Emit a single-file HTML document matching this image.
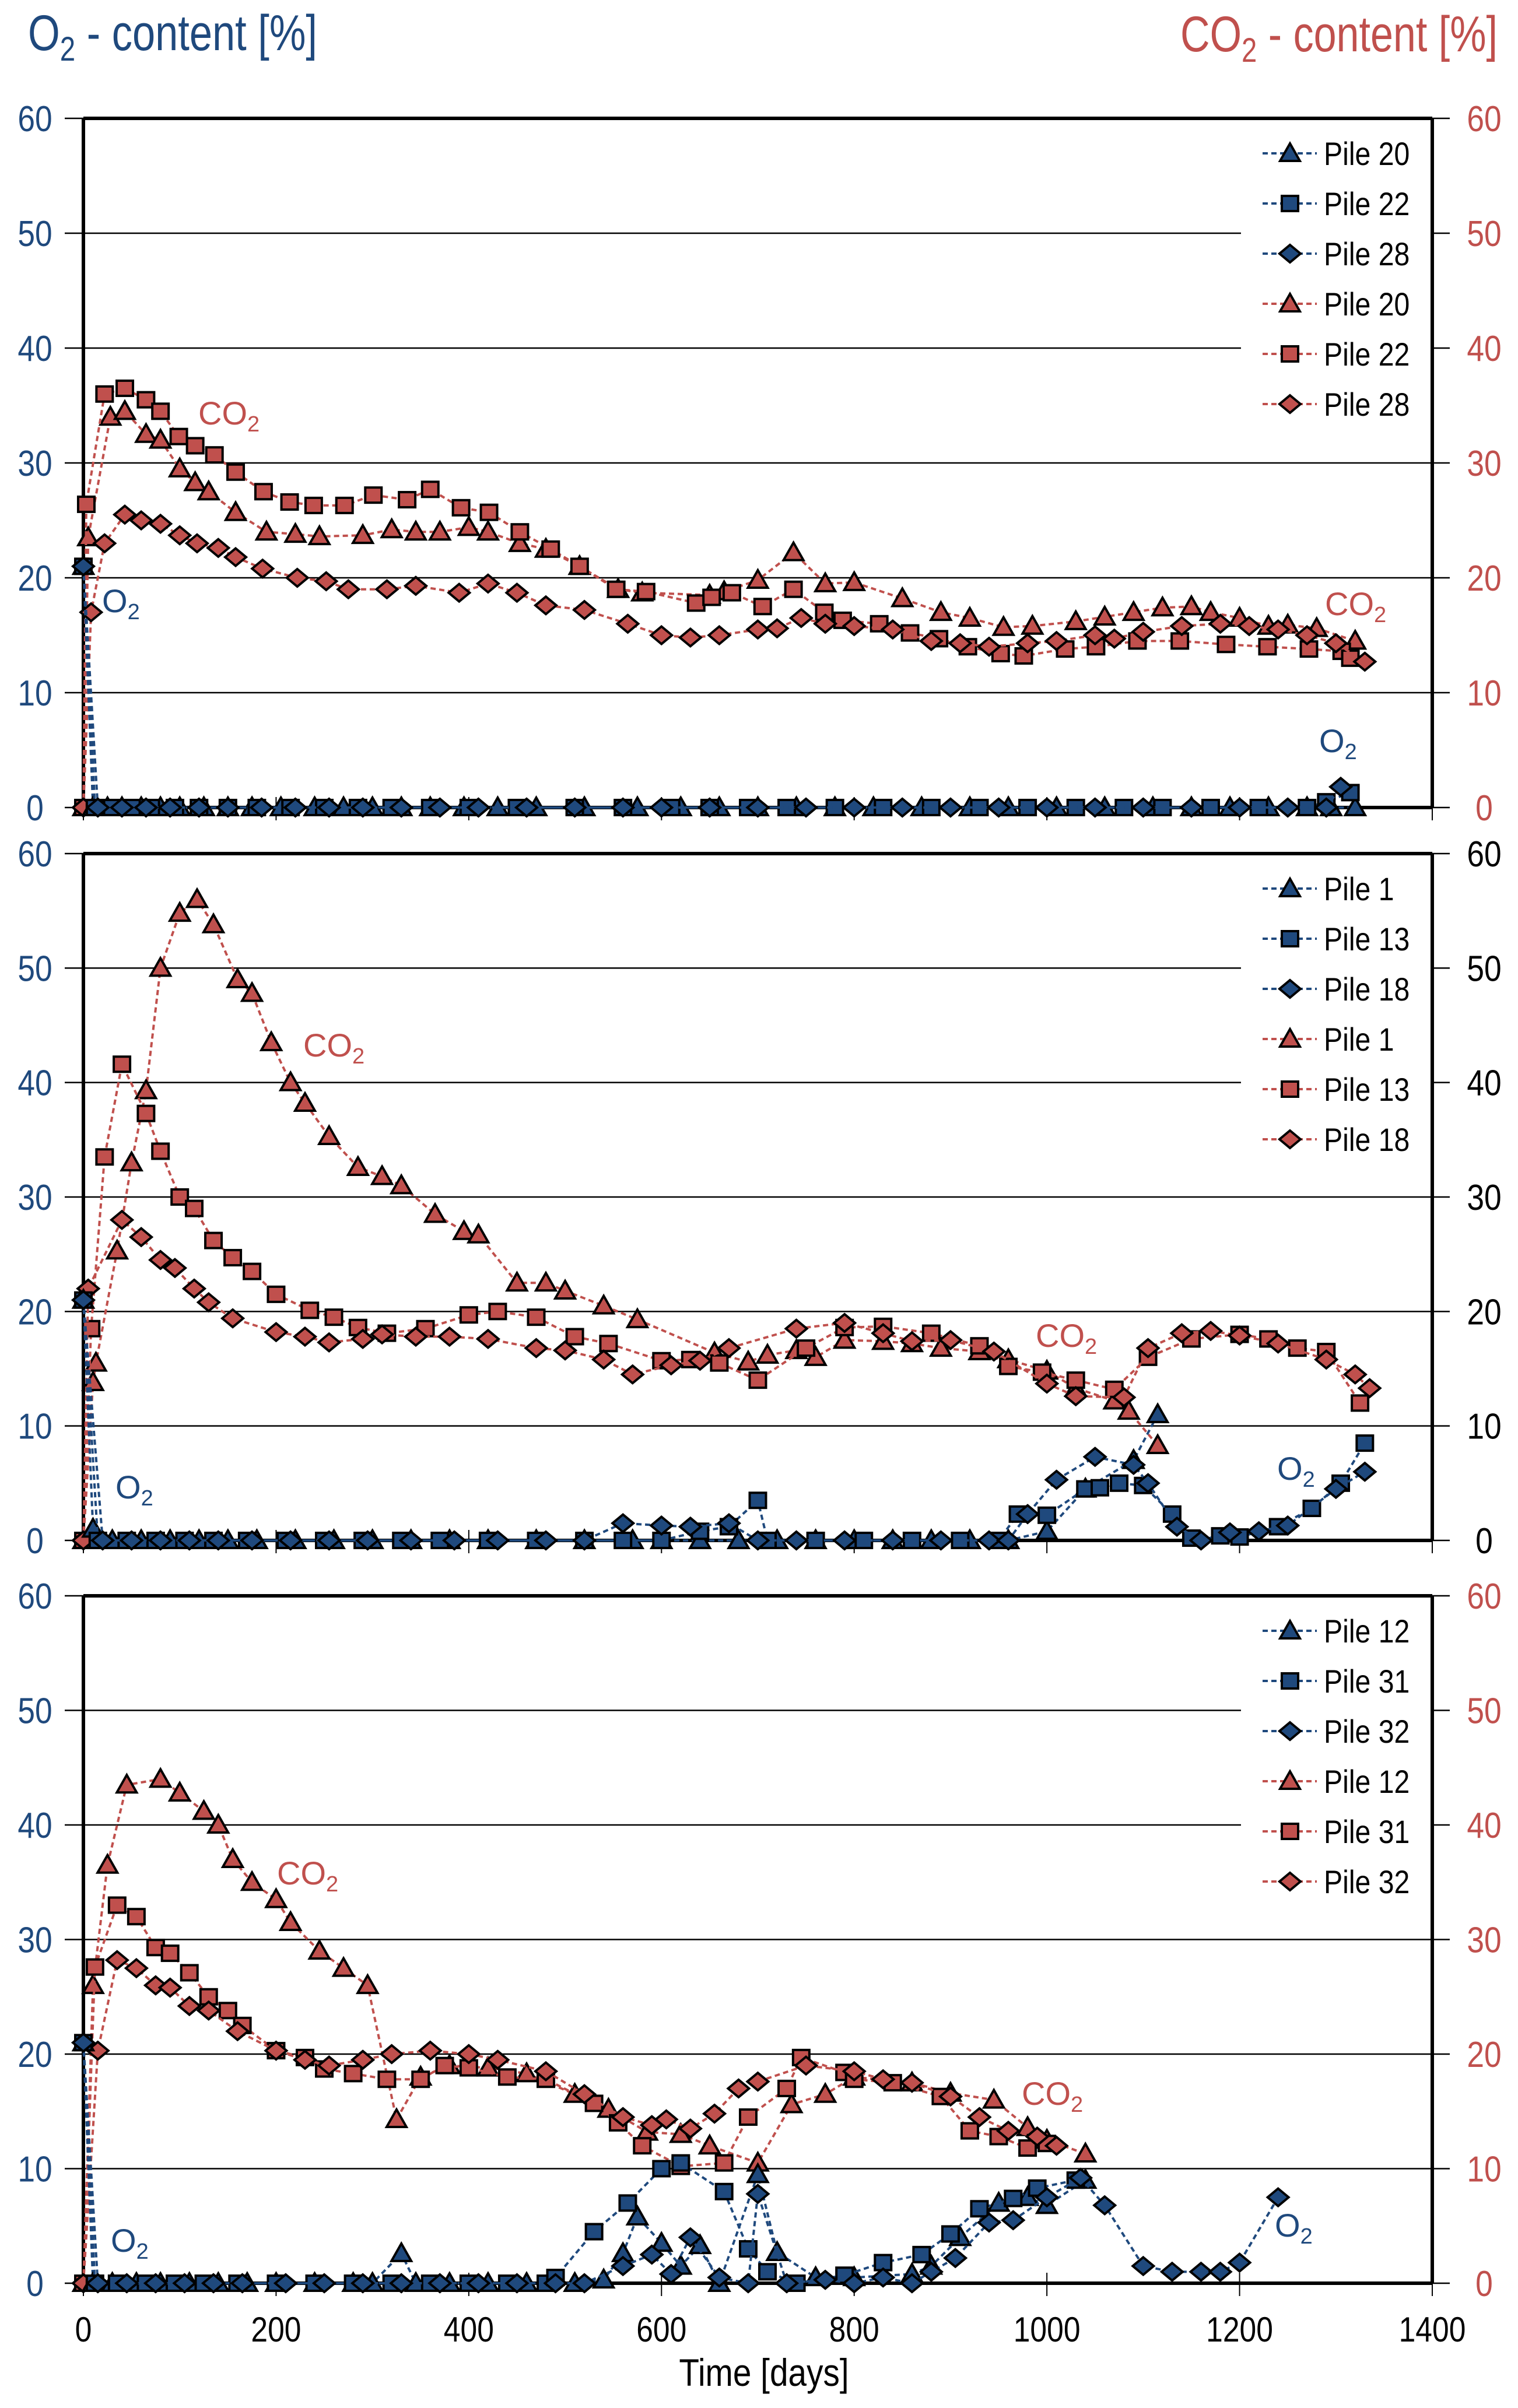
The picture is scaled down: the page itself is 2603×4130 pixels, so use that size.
<!DOCTYPE html>
<html><head><meta charset="utf-8">
<style>
html,body{margin:0;padding:0;background:#fff;}
svg{display:block;font-family:"Liberation Sans",Arial,sans-serif;}
</style></head>
<body>
<svg id="chart" width="2603" height="4130" viewBox="0 0 2603 4130" xmlns="http://www.w3.org/2000/svg">
<text id="ltitle" x="48" y="86" font-size="86" fill="#1f497d" textLength="496" lengthAdjust="spacingAndGlyphs">O<tspan font-size="58" dy="18">2</tspan><tspan dy="-18"> - content [%]</tspan></text>
<text id="rtitle" x="2024" y="88" font-size="86" fill="#c0504d" textLength="544" lengthAdjust="spacingAndGlyphs">CO<tspan font-size="58" dy="18">2</tspan><tspan dy="-18"> - content [%]</tspan></text>
<text class="cond" x="1310" y="4092" font-size="66" text-anchor="middle" fill="#000">Time [days]</text>
<g id="plots"></g>
</svg>
<script>
// ---- data ----
const xTicks = [0,200,400,600,800,1000,1200,1400];
const yTicks = [0,10,20,30,40,50,60];

// Top panel
const p1Names = ["Pile 20","Pile 22","Pile 28"];
const p1O2_20_days = [0,10,25,40,60,80,100,125,150,175,205,240,270,300,330,360,395,430,470,520,575,620,660,700,740,780,820,870,920,960,1010,1060,1110,1150,1190,1230,1270,1295,1320];
const p1O2_20_vals = [21,0,0,0,0,0,0,0,0,0,0,0,0,0,0,0,0,0,0,0,0,0,0,0,0,0,0,0,0,0,0,0,0,0,0,0,0,0,0];
const p1O2_22_days = [0,12,30,50,70,95,120,150,180,215,250,285,320,360,400,450,510,560,610,650,690,730,780,830,880,930,980,1030,1080,1120,1170,1220,1270,1290,1315];
const p1O2_22_vals = [21,0,0,0,0,0,0,0,0,0,0,0,0,0,0,0,0,0,0,0,0,0,0,0,0,0,0,0,0,0,0,0,0,0.5,1.3];
const p1O2_28_days = [0,15,40,65,90,120,150,185,220,255,290,330,370,410,460,510,560,600,650,700,750,800,850,900,950,1000,1050,1100,1150,1200,1250,1290,1305];
const p1O2_28_vals = [21,0,0,0,0,0,0,0,0,0,0,0,0,0,0,0,0,0,0,0,0,0,0,0,0,0,0,0,0,0,0,0,1.8];
const p1CO2_20_days = [0,5,28,43,65,80,100,116,130,158,190,220,245,290,320,345,370,400,420,453,480,515,555,580,650,665,700,737,770,800,850,890,920,955,985,1030,1060,1090,1120,1150,1170,1200,1230,1250,1280,1320];
const p1CO2_20_vals = [0,23.5,34,34.5,32.5,32,29.5,28.3,27.5,25.7,24,23.8,23.6,23.7,24.2,24,24,24.4,24,23,22.5,21,19,18.7,18.5,18.8,19.8,22.2,19.5,19.6,18.2,17,16.5,15.7,15.8,16.2,16.6,17,17.4,17.5,17,16.5,15.8,15.9,15.6,14.5];
const p1CO2_22_days = [0,3,22,43,65,80,99,116,136,158,187,214,239,271,301,336,360,392,421,453,485,515,553,584,636,652,673,705,737,769,788,826,858,888,918,952,976,1019,1051,1094,1138,1186,1229,1272,1306,1315];
const p1CO2_22_vals = [0,26.4,36,36.5,35.5,34.5,32.3,31.5,30.7,29.2,27.5,26.6,26.3,26.3,27.2,26.8,27.7,26.1,25.7,24,22.5,21,19,18.8,17.8,18.3,18.7,17.5,19,17,16.3,16,15.2,14.7,14,13.4,13.2,13.8,14,14.5,14.5,14.2,14,13.8,13.6,13];
const p1CO2_28_days = [0,8,22,43,60,80,100,118,140,158,186,222,252,275,315,345,390,420,450,480,520,565,600,630,660,700,720,745,770,800,840,880,910,940,980,1010,1050,1070,1100,1140,1180,1210,1240,1270,1300,1330];
const p1CO2_28_vals = [0,17,23,25.5,25,24.7,23.7,23,22.6,21.8,20.8,20,19.7,19,19,19.3,18.7,19.5,18.7,17.6,17.2,16,15,14.8,15,15.5,15.6,16.5,16,15.8,15.5,14.5,14.3,14,14.3,14.5,15,14.7,15.3,15.8,16,15.8,15.5,15,14.3,12.7];

// Middle panel
const p2Names = ["Pile 1","Pile 13","Pile 18"];
const p2O2_1_days = [0,10,30,60,90,120,150,180,220,260,300,340,380,420,470,520,570,600,640,680,720,760,800,840,880,920,960,1000,1040,1090,1115];
const p2O2_1_vals = [21,1,0,0,0,0,0,0,0,0,0,0,0,0,0,0,0,0,0,0,0,0,0,0,0,0,0,0.8,4.5,7,11];
const p2O2_13_days = [0,15,45,75,105,135,170,210,250,290,330,370,420,470,520,560,600,640,670,700,710,760,810,860,910,950,970,1000,1040,1055,1075,1100,1130,1150,1180,1200,1240,1275,1305,1330];
const p2O2_13_vals = [21,0,0,0,0,0,0,0,0,0,0,0,0,0,0,0,0,0.8,1.2,3.5,0,0,0,0,0,0,2.3,2.2,4.5,4.6,5,4.8,2.3,0.2,0.4,0.3,1.2,2.8,5,8.5];
const p2O2_18_days = [0,20,50,80,110,140,175,215,255,295,340,385,430,480,520,560,600,630,670,700,740,790,840,890,940,960,980,1010,1050,1090,1105,1135,1160,1190,1220,1250,1300,1330];
const p2O2_18_vals = [21,0,0,0,0,0,0,0,0,0,0,0,0,0,0,1.5,1.3,1.2,1.5,0,0,0,0,0,0,0,2.3,5.3,7.3,6.6,5,1.2,0,0.7,0.8,1.3,4.5,6];
const p2CO2_1_days = [0,10,13,35,50,65,80,100,118,135,160,175,195,215,230,255,285,310,330,365,395,410,450,480,500,540,575,655,690,710,740,760,790,830,860,890,930,960,1000,1030,1070,1085,1115];
const p2CO2_1_vals = [0,13.8,15.5,25.3,33,39.3,50,54.8,56,53.8,49,47.8,43.5,40,38.2,35.3,32.6,31.8,31,28.5,27,26.7,22.5,22.5,21.8,20.5,19.3,16.4,15.6,16.2,16.6,16,17.5,17.4,17.2,16.8,16.5,15.8,14.8,13.3,12.2,11.3,8.3];
const p2CO2_13_days = [0,8,22,40,65,80,100,115,135,155,175,200,235,260,285,315,355,400,430,470,510,545,600,630,660,700,750,790,830,880,930,960,995,1030,1070,1105,1150,1200,1230,1260,1290,1325];
const p2CO2_13_vals = [0,18.5,33.5,41.6,37.3,34,30,29,26.2,24.7,23.5,21.5,20.1,19.5,18.6,18.1,18.5,19.7,20,19.5,17.8,17.2,15.7,15.8,15.5,14,16.8,18.6,18.7,18.1,17,15.2,14.7,14,13.2,16,17.6,18,17.6,16.8,16.5,12];
const p2CO2_18_days = [0,5,40,60,80,95,115,130,155,200,230,255,290,310,345,380,420,470,500,540,570,610,640,670,740,790,830,860,900,945,1000,1030,1080,1105,1140,1170,1200,1240,1290,1320,1335];
const p2CO2_18_vals = [0,22,28,26.5,24.5,23.8,22,20.8,19.4,18.2,17.8,17.3,17.6,18,17.8,17.8,17.6,16.8,16.6,15.8,14.5,15.3,15.7,16.8,18.5,19,18.1,17.4,17.5,16.5,13.7,12.6,12.5,16.8,18.1,18.3,17.9,17.2,15.8,14.5,13.3];

// Bottom panel
const p3Names = ["Pile 12","Pile 31","Pile 32"];
const p3O2_12_days = [0,10,30,55,80,110,140,170,200,240,280,300,330,345,380,420,460,510,540,560,575,600,620,640,660,700,720,760,800,860,880,910,950,980,1000,1040];
const p3O2_12_vals = [21,0,0,0,0,0,0,0,0,0,0,0,2.6,0,0,0,0,0,0.3,2.6,5.8,3.5,1.5,3.3,0,9.5,2.7,0.5,0.5,0.8,1.5,4,7,7.5,6.8,9];
const p3O2_31_days = [0,12,35,65,95,125,160,200,240,280,320,360,400,440,480,490,530,565,600,620,665,690,710,740,790,830,870,900,930,965,990,1030];
const p3O2_31_vals = [21,0,0,0,0,0,0,0,0,0,0,0,0,0,0,0.5,4.5,7,10,10.5,8,3,1,0,0.7,1.8,2.5,4.3,6.5,7.4,8.3,9];
const p3O2_32_days = [0,15,45,75,105,135,165,210,250,290,330,370,410,450,490,520,560,590,610,630,660,690,700,730,770,800,830,860,880,905,940,965,1000,1035,1060,1100,1130,1160,1180,1200,1240];
const p3O2_32_vals = [21,0,0,0,0,0,0,0,0,0,0,0,0,0,0,0,1.5,2.5,0.8,4,0.5,0,7.8,0,0.3,0,0.5,0,1,2.2,5.3,5.5,7.5,9.2,6.8,1.5,1,1,1,1.8,7.5];
const p3CO2_12_days = [0,10,25,45,80,100,125,140,155,175,200,215,245,270,295,325,350,380,420,460,510,545,585,620,650,700,735,770,800,860,900,945,980,1000,1040];
const p3CO2_12_vals = [0,26,36.5,43.5,44,42.8,41.2,40,37,35,33.5,31.5,29,27.5,26,14.3,18,19,18.8,18.3,16.5,15.2,13.2,13,12,10.5,15.6,16.5,18,17.5,16.6,16,13.6,12.5,11.3];
const p3CO2_31_days = [0,12,35,55,75,90,110,130,150,165,200,230,250,280,315,350,375,400,440,480,530,555,580,620,665,690,730,745,790,800,840,890,920,950,980,1000];
const p3CO2_31_vals = [0,27.6,33,32,29.3,28.8,27.1,25,23.8,22.5,20.3,19.7,18.7,18.3,17.8,17.8,19,18.8,18,17.8,15.7,14,12,10.2,10.5,14.5,17,19.7,18.4,17.8,17.5,16.3,13.3,12.8,11.8,12.2];
const p3CO2_32_days = [0,15,35,55,75,90,110,130,160,200,230,255,290,320,360,400,430,480,520,560,590,605,630,655,680,700,750,800,830,860,900,930,960,990,1010];
const p3CO2_32_vals = [0,20.3,28.2,27.5,26,25.8,24.2,23.8,22,20.3,19.5,19,19.5,20,20.3,20,19.5,18.5,16.5,14.5,13.8,14.3,13.5,14.8,17,17.6,19,18.5,17.8,17.5,16.3,14.5,13.3,12.8,12];

// ---- layout ----
const BLUE="#1f497d", RED="#c0504d";
const XL=143, XR=2456, DMAX=1400;
const panels=[
 {top:203,bot:1385,names:p1Names,rightColor:RED,
  series:[[p1O2_20_days,p1O2_20_vals,"tri",BLUE],[p1O2_22_days,p1O2_22_vals,"sq",BLUE],[p1O2_28_days,p1O2_28_vals,"dia",BLUE],
          [p1CO2_20_days,p1CO2_20_vals,"tri",RED],[p1CO2_22_days,p1CO2_22_vals,"sq",RED],[p1CO2_28_days,p1CO2_28_vals,"dia",RED]],
  labels:[["CO",RED,340,728],["O",BLUE,175,1050],["CO",RED,2272,1055],["O",BLUE,2262,1290]]},
 {top:1464,bot:2642,names:p2Names,rightColor:"#000",
  series:[[p2O2_1_days,p2O2_1_vals,"tri",BLUE],[p2O2_13_days,p2O2_13_vals,"sq",BLUE],[p2O2_18_days,p2O2_18_vals,"dia",BLUE],
          [p2CO2_1_days,p2CO2_1_vals,"tri",RED],[p2CO2_13_days,p2CO2_13_vals,"sq",RED],[p2CO2_18_days,p2CO2_18_vals,"dia",RED]],
  labels:[["CO",RED,520,1812],["O",BLUE,198,2570],["CO",RED,1776,2310],["O",BLUE,2190,2538]]},
 {top:2737,bot:3916,names:p3Names,rightColor:RED,
  series:[[p3O2_12_days,p3O2_12_vals,"tri",BLUE],[p3O2_31_days,p3O2_31_vals,"sq",BLUE],[p3O2_32_days,p3O2_32_vals,"dia",BLUE],
          [p3CO2_12_days,p3CO2_12_vals,"tri",RED],[p3CO2_31_days,p3CO2_31_vals,"sq",RED],[p3CO2_32_days,p3CO2_32_vals,"dia",RED]],
  labels:[["CO",RED,475,3232],["O",BLUE,190,3862],["CO",RED,1752,3610],["O",BLUE,2186,3836]]}
];
const NS="http://www.w3.org/2000/svg";
const root=document.getElementById("plots");
function mk(tag,attrs,parent){const e=document.createElementNS(NS,tag);for(const k in attrs)e.setAttribute(k,attrs[k]);(parent||root).appendChild(e);return e;}
function xs(d){return XL+(d/DMAX)*(XR-XL);}
function marker(shape,cx,cy,fill,g){
  let e;
  if(shape==="tri"){e=mk("polygon",{points:`${cx},${cy-17} ${cx+17},${cy+13} ${cx-17},${cy+13}`,fill:fill,stroke:"#000","stroke-width":4},g);}
  else if(shape==="sq"){e=mk("rect",{x:cx-14,y:cy-13,width:28,height:26,fill:fill,stroke:"#000","stroke-width":4},g);}
  else {e=mk("polygon",{points:`${cx},${cy-15} ${cx+18},${cy} ${cx},${cy+15} ${cx-18},${cy}`,fill:fill,stroke:"#000","stroke-width":4},g);}
  return e;
}
panels.forEach((p,pi)=>{
  const ys=v=>p.bot-(v/60)*(p.bot-p.top);
  const g=mk("g",{});
  
  
  yTicks.forEach(t=>{
    const y=ys(t);
    if(t>0&&t<60){
      const gl=mk("line",{x1:XL-32,y1:y,x2:XR,y2:y,stroke:"#000","stroke-width":2.5},g);
      
      
    } else {
      mk("line",{x1:XL-32,y1:y,x2:XL,y2:y,stroke:"#000","stroke-width":2.5},g);
    }
    mk("line",{x1:XR,y1:y,x2:XR+30,y2:y,stroke:"#000","stroke-width":2.5},g);
    const lt=mk("text",{x:60,y:y+22,"font-size":62,fill:BLUE,"text-anchor":"middle",class:"cond"},g);
    lt.textContent=t;
    
    
    const rt=mk("text",{x:2545,y:y+22,"font-size":62,fill:p.rightColor,"text-anchor":"middle",class:"cond"},g);
    rt.textContent=t;
    
    
  });
  xTicks.forEach(d=>{
    mk("line",{x1:xs(d),y1:p.bot-18,x2:xs(d),y2:p.bot+22,stroke:"#000","stroke-width":2},g);
    if(pi===2){
      const xt=mk("text",{x:xs(d),y:4016,"font-size":60,"text-anchor":"middle",fill:"#000",class:"cond"},g);
      xt.textContent=d;
      
      
    }
  });
  const lx=2128;
  const lb=mk("rect",{x:lx,y:p.top+4,width:XR-lx-3,height:540,fill:"#fff"},g);
  
  
  mk("line",{x1:XL,y1:p.top,x2:XR,y2:p.top,stroke:"#000","stroke-width":6},g);
  mk("line",{x1:XL,y1:p.top,x2:XL,y2:p.bot,stroke:"#000","stroke-width":6},g);
  mk("line",{x1:XR,y1:p.top,x2:XR,y2:p.bot,stroke:"#000","stroke-width":6},g);
  mk("line",{x1:XL,y1:p.bot,x2:XR,y2:p.bot,stroke:"#000","stroke-width":6},g);
  const order=[3,4,5,0,1,2];
  order.forEach(si=>{
    const [days,vals,shape,col]=p.series[si];
    const pts=days.map((d,i)=>xs(d)+","+ys(vals[i])).join(" ");
    const line=mk("polyline",{points:pts,fill:"none",stroke:col,"stroke-width":4,"stroke-dasharray":"9,6"},g);
    
    
    days.forEach((d,i)=>{
      const m=marker(shape,xs(d),ys(vals[i]),col,g);
      
      
    });
  });
  for(let k=0;k<6;k++){
    const y=p.top+60+k*86;
    const col=k<3?BLUE:RED;
    const shape=["tri","sq","dia"][k%3];
    const eg=mk("g",{},g);
    
    
    mk("line",{x1:2165,y1:y,x2:2258,y2:y,stroke:col,"stroke-width":4,"stroke-dasharray":"9,6"},eg);
    marker(shape,2212,y,col,eg);
    const t=mk("text",{x:2270,y:y+20,"font-size":56,fill:"#000",class:"cond"},eg);
    t.textContent=p.names[k%3];
  }
  p.labels.forEach(([txt,col,x,y])=>{
    const t=mk("text",{x:x,y:y,"font-size":56,fill:col},g);
    
    
    t.textContent=txt;
    const s=mk("tspan",{"font-size":38,dy:12},t);
    s.textContent="2";
  });
});
// condense text to mimic narrow font
document.querySelectorAll("text.cond").forEach(t=>{
  const w=t.getComputedTextLength();
  if(w>0){t.setAttribute("textLength",(w*0.86).toFixed(1));t.setAttribute("lengthAdjust","spacingAndGlyphs");}
});
</script>
</body></html>
